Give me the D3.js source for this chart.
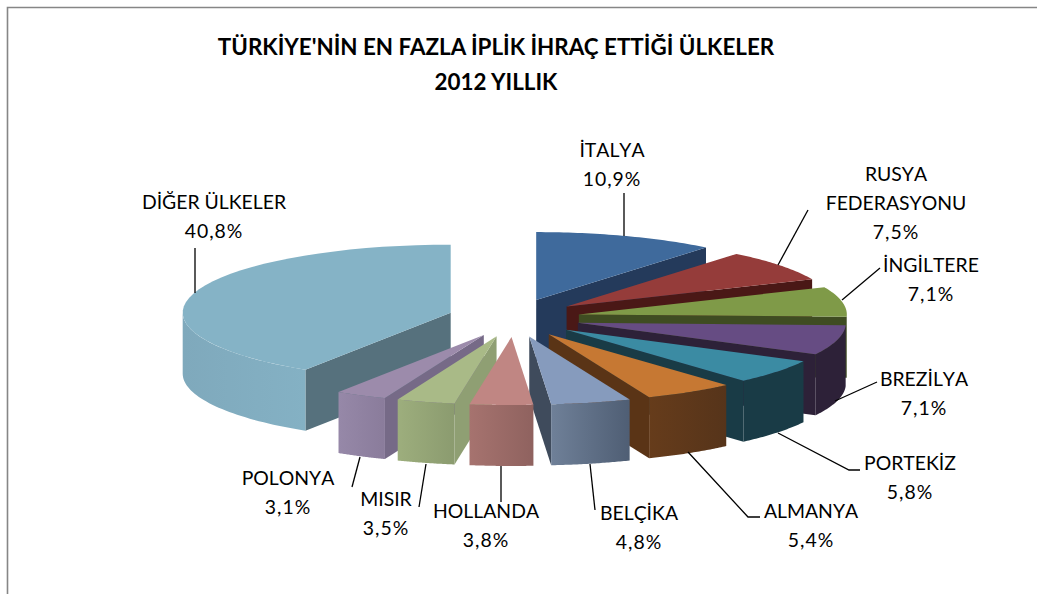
<!DOCTYPE html>
<html><head><meta charset="utf-8">
<script src="https://cdn.jsdelivr.net/npm/d3@7"></script>
<style>html,body{margin:0;padding:0;background:#fff}svg{display:block}text{font-family:Lato,sans-serif;fill:#000}</style>
</head><body><svg id="c" width="1037" height="594"></svg>
<script>
const categories=["İTALYA","RUSYA FEDERASYONU","İNGİLTERE","BREZİLYA","PORTEKİZ","ALMANYA","BELÇİKA","HOLLANDA","MISIR","POLONYA","DİĞER ÜLKELER"];
const values=[10.9,7.5,7.1,7.1,5.8,5.4,4.8,3.8,3.5,3.1,40.8];
const labelLines=[["İTALYA"],["RUSYA","FEDERASYONU"],["İNGİLTERE"],["BREZİLYA"],["PORTEKİZ"],["ALMANYA"],["BELÇİKA"],["HOLLANDA"],["MISIR"],["POLONYA"],["DİĞER ÜLKELER"]];
const labelX=[612,896,931,924,910,811,639,486,386,288,214];
const labelY=[157,181,272,386,470,518,520,518,506,485,209];
const leaders=[[[624,193],[624,236]],[[808,210],[778,265]],[[880,268],[842,300]],[[877,382],[835,401]],[[860,470],[849,470],[778,433]],[[760,517],[748,517],[688,452]],[[595,510],[590,464]],[[501,502],[501,466]],[[419,507],[426,464]],[[352,487],[360,457]],[[195,248],[195,293]]];
const topColors=["#3f6a9c","#953c3a","#7f9a48","#664c83","#3b8ba3","#c67833","#869bbd","#c08683","#a9ba87","#9c8bab","#85b3c6"];
const faceColors=["#243a5b","#4a1816","#3f4c22","#2d2138","#193b46","#5a3416","#3f4b5c","#8e625f","#8f9f73","#766a87","#56717d"];
const wallLeft=["#2a4163","#4a1816","#3f4c22","#2d2138","#193b46","#663c1b","#6f8098","#a6736f","#9dae7d","#9688a8","#7fa9bc"];
const wallRight=["#2a4163","#4a1816","#3f4c22","#2d2138","#193b46","#56341a","#4f5e74","#8f625f","#8b9b6f","#8a7c9b","#84b1c4"];
const titleLines=["TÜRKİYE'NİN EN FAZLA İPLİK İHRAÇ ETTİĞİ ÜLKELER","2012 YILLIK"];

const svg=d3.select("#c");
const defs=svg.append("defs");
svg.append("path").attr("d","M7.5 594V7.5H1037").attr("fill","none").attr("stroke","#868686").attr("stroke-width",1.6);
svg.append("text").selectAll("tspan").data(titleLines).join("tspan")
 .attr("x",496).attr("y",(d,i)=>55+i*35).attr("text-anchor","middle")
 .attr("font-size",22.4).attr("font-weight",700).text(d=>d);

const sx=d3.scaleLinear().domain([-1,1]).range([514-268,514+268]);
const sy=d3.scaleLinear().domain([-1,1]).range([318+68,318-68]);
const explodeX=66/268, explodeY=19/68, wallH=61;
const pie=d3.pie().sort(null).value(d=>d);
const arcs=pie(values).map((a,i)=>({...a,i,mid:(a.startAngle+a.endAngle)/2}));
arcs.forEach(a=>{a.ax=sx(Math.sin(a.mid)*explodeX);a.ay=sy(Math.cos(a.mid)*explodeY);});
const rimPt=(a,t,dz=0)=>[a.ax+(sx(Math.sin(t))-sx(0)),a.ay+(sy(Math.cos(t))-sy(0))+dz];
const rim=(a,t0,t1,dz=0)=>d3.range(0,41).map(k=>rimPt(a,t0+(t1-t0)*k/40,dz));
const line=d3.line();
const order=arcs.slice().sort((p,q)=>p.ay-q.ay);
const g=svg.append("g");
order.forEach(a=>{
 const i=a.i, s=g.append("g");
 const face=t=>{const o=rimPt(a,t);return line([[a.ax,a.ay],o,[o[0],o[1]+wallH],[a.ax,a.ay+wallH]])+"Z";};
 if(Math.sin(a.startAngle)<-1e-6) s.append("path").attr("d",face(a.startAngle)).attr("fill",faceColors[i]);
 if(Math.sin(a.endAngle)>1e-6) s.append("path").attr("d",face(a.endAngle)).attr("fill",faceColors[i]);
 const t0=Math.max(a.startAngle,Math.PI/2), t1=Math.min(a.endAngle,3*Math.PI/2);
 if(t1>t0){
  const top=rim(a,t0,t1), bot=rim(a,t0,t1,wallH).reverse();
  const xs=top.map(p=>p[0]);
  const id="w"+i;
  const gr=defs.append("linearGradient").attr("id",id).attr("gradientUnits","userSpaceOnUse")
   .attr("x1",d3.min(xs)).attr("x2",d3.max(xs)).attr("y1",0).attr("y2",0);
  gr.append("stop").attr("offset",0).attr("stop-color",wallLeft[i]);
  gr.append("stop").attr("offset",1).attr("stop-color",wallRight[i]);
  s.append("path").attr("d",line(top.concat(bot))+"Z").attr("fill",`url(#${id})`);
 }
 s.append("path").attr("d",line([[a.ax,a.ay]].concat(rim(a,a.startAngle,a.endAngle)))+"Z").attr("fill",topColors[i]);
});
svg.append("g").selectAll("path").data(leaders).join("path")
 .attr("d",d=>line(d)).attr("fill","none").attr("stroke","#000").attr("stroke-width",1.3);
const lab=svg.append("g");
categories.forEach((c,i)=>{
 const names=labelLines[i];
 const lines=names.concat(String(values[i]).replace(".",",")+"%");
 const t=lab.append("text").attr("font-size",19.4).attr("text-anchor","middle").style("font-kerning","none");
 lines.forEach((l,k)=>t.append("tspan").attr("x",labelX[i]).attr("y",labelY[i]+k*29)
   .attr("letter-spacing",k===names.length?1:0).text(l));
});
</script></body></html>
